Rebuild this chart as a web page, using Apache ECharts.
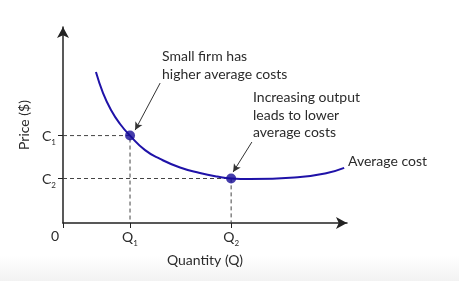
<!DOCTYPE html>
<html>
<head>
<meta charset="utf-8">
<script src="https://cdn.jsdelivr.net/npm/echarts@6/dist/echarts.min.js"></script>
<style>html,body{margin:0;padding:0;background:#fff}#c{width:459px;height:281px}</style>
</head>
<body>
<div id="c"></div>
<script>
// Average cost curve (quantity, cost) in chart units
const curveQ = [11.6, 14.1, 16.9, 20.1, 23.6, 28.9, 34.2, 41.2, 48.2, 54.2, 59.2, 65.8, 83.5, 93.0, 99.0];
const curveC = [77.0, 66.3, 57.7, 50.5, 44.6, 37.2, 32.7, 28.3, 25.5, 23.7, 22.7, 22.4, 23.5, 25.5, 28.1];
// Marked points
const pointNames = ['1', '2'];
const pointQ = [23.6, 59.2];
const pointC = [44.6, 22.7];
// Tick labels
const xTickLabels = ['Q', 'Q'];
const yTickLabels = ['C', 'C'];

const FONT = 'Lato';
const TXT = '#2b2b2b';
const chart = echarts.init(document.getElementById('c'));

const curveData = curveQ.map((q, i) => [q, curveC[i]]);
const dashSeries = pointQ.map((q, i) => ({
  type: 'line', silent: true, symbol: 'none', z: 1,
  lineStyle: { color: '#444', width: 1, type: [4, 3] },
  data: [[0, pointC[i]], [q, pointC[i]], [q, 0]]
}));

function xLab(v) {
  if (v === 0) return '{z|0}';
  const i = pointQ.indexOf(v);
  return i >= 0 ? '{m|' + xTickLabels[i] + '}{s|' + pointNames[i] + '}' : '';
}
function yLab(v) {
  const i = pointC.indexOf(v);
  return i >= 0 ? '{m|' + yTickLabels[i] + '}{s|' + pointNames[i] + '}' : '';
}
const rich = {
  m: { fontSize: 14, fontFamily: FONT, color: TXT, lineHeight: 15, verticalAlign: 'bottom' },
  s: { fontSize: 8, fontFamily: FONT, color: TXT, lineHeight: 8, verticalAlign: 'bottom', padding: [0, 0, -3, 0] },
  z: { fontSize: 14, fontFamily: FONT, color: TXT, padding: [0, 16, 0, 0] }
};

chart.setOption({
  backgroundColor: '#fff',
  animation: false,
  grid: { left: 63, right: 112, top: 27, bottom: 58 },
  xAxis: {
    type: 'value', min: 0, max: 100,
    name: 'Quantity (Q)', nameLocation: 'middle', nameGap: 30,
    nameTextStyle: { fontSize: 14, fontFamily: FONT, color: TXT },
    axisLine: { show: true, onZero: false, symbol: ['none', 'arrow'], symbolSize: [9, 11], lineStyle: { color: '#222', width: 1.5 } },
    axisTick: { show: true, customValues: [0, ...pointQ], length: 5, lineStyle: { color: '#222' } },
    axisLabel: { customValues: [0, ...pointQ], formatter: xLab, rich: rich, margin: 6 },
    splitLine: { show: false }
  },
  yAxis: {
    type: 'value', min: 0, max: 100,
    name: 'Price ($)', nameLocation: 'middle', nameGap: 21, nameRotate: 90,
    nameTextStyle: { fontSize: 14, fontFamily: FONT, color: TXT },
    axisLine: { show: true, onZero: false, symbol: ['none', 'arrow'], symbolSize: [9, 11], lineStyle: { color: '#222', width: 1.5 } },
    axisTick: { show: true, customValues: pointC, length: 5, lineStyle: { color: '#222' } },
    axisLabel: { customValues: pointC, formatter: yLab, rich: rich, margin: 7 },
    splitLine: { show: false }
  },
  graphic: [
    { type: 'rect', z: -10, silent: true, shape: { x: 0, y: 255, width: 459, height: 26 },
      style: { fill: new echarts.graphic.LinearGradient(0, 0, 0, 1, [{ offset: 0, color: '#ffffff' }, { offset: 1, color: '#f2f2f2' }]) } },
    { type: 'text', left: 162, top: 47, z: 10,
      style: { text: 'Small firm has\nhigher average costs', fontSize: 14, fontFamily: FONT, fill: TXT, lineHeight: 18 } },
    { type: 'text', left: 253, top: 89, z: 10,
      style: { text: 'Increasing output\nleads to lower\naverage costs', fontSize: 14, fontFamily: FONT, fill: TXT, lineHeight: 17.5 } },
    { type: 'text', left: 348, top: 152, z: 10,
      style: { text: 'Average cost', fontSize: 14, fontFamily: FONT, fill: TXT, lineHeight: 18 } }
  ],
  series: [
    ...dashSeries,
    {
      type: 'line', data: curveData, smooth: 0.5, symbol: 'none', z: 3,
      lineStyle: { color: '#1f12a8', width: 2 },
      markLine: {
        silent: true, symbol: ['none', 'arrow'], symbolSize: [6, 8],
        label: { show: false },
        lineStyle: { color: '#333', width: 1, type: 'solid' },
        data: [
          [{ coord: [34.2, 71.4] }, { coord: [25.4, 47.4] }],
          [{ coord: [66.5, 41.3] }, { coord: [59.9, 26.0] }]
        ]
      }
    },
    {
      type: 'scatter', z: 4, symbolSize: 10,
      itemStyle: { color: '#160c96' },
      data: pointQ.map((q, i) => [q, pointC[i]])
    }
  ]
});
</script>
</body>
</html>
